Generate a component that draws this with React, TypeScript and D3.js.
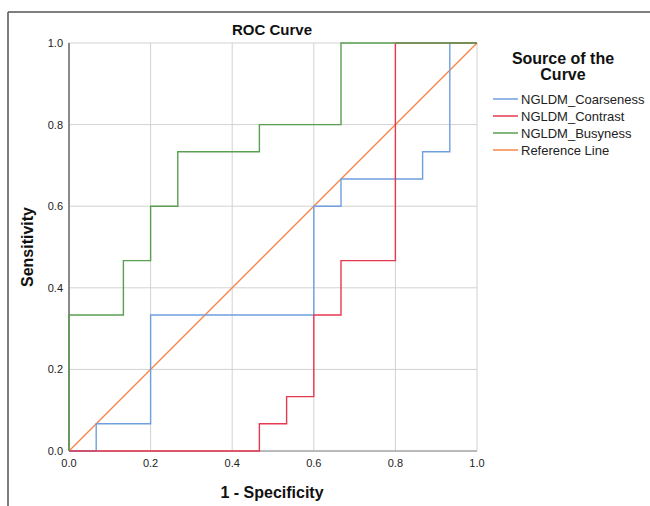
import React from "react";
import * as d3 from "d3";

const xTicks = [0, 0.2, 0.4, 0.6, 0.8, 1.0];
const yTicks = [0, 0.2, 0.4, 0.6, 0.8, 1.0];

const seriesNames = ["NGLDM_Coarseness", "NGLDM_Contrast", "NGLDM_Busyness", "Reference Line"];
const seriesColors = ["#6f9fdf", "#e5394f", "#5a9e52", "#f7874a"];

// ROC points (1 - specificity, sensitivity), steps of 1/15
const coarsenessFpr = [0, 1/15, 1/15, 3/15, 3/15, 9/15, 9/15, 10/15, 10/15, 13/15, 13/15, 14/15, 14/15, 1];
const coarsenessTpr = [0, 0, 1/15, 1/15, 5/15, 5/15, 9/15, 9/15, 10/15, 10/15, 11/15, 11/15, 1, 1];

const contrastFpr = [0, 7/15, 7/15, 8/15, 8/15, 9/15, 9/15, 10/15, 10/15, 12/15, 12/15, 1];
const contrastTpr = [0, 0, 1/15, 1/15, 2/15, 2/15, 5/15, 5/15, 7/15, 7/15, 1, 1];

const busynessFpr = [0, 0, 2/15, 2/15, 3/15, 3/15, 4/15, 4/15, 7/15, 7/15, 10/15, 10/15, 1];
const busynessTpr = [0, 5/15, 5/15, 7/15, 7/15, 9/15, 9/15, 11/15, 11/15, 12/15, 12/15, 1, 1];

const referenceFpr = [0, 1];
const referenceTpr = [0, 1];

export default function App() {
  const W = 650, H = 506;
  const left = 69, right = 477, top = 43, bottom = 451;
  const x = d3.scaleLinear().domain([0, 1]).range([left, right]);
  const y = d3.scaleLinear().domain([0, 1]).range([bottom, top]);
  const line = d3.line<[number, number]>().x(d => x(d[0])).y(d => y(d[1]));
  const zip = (a: number[], b: number[]) => a.map((v, i) => [v, b[i]] as [number, number]);
  const series = [
    zip(coarsenessFpr, coarsenessTpr),
    zip(contrastFpr, contrastTpr),
    zip(busynessFpr, busynessTpr),
    zip(referenceFpr, referenceTpr),
  ];
  const drawOrder = [3, 0, 1, 2];
  const font = "Arial, 'Liberation Sans', sans-serif";
  return (
    <svg width={W} height={H} style={{ position: "absolute", left: 0, top: 0 }} fontFamily={font}>
      <rect x={0} y={0} width={W} height={H} fill="#fff" />
      {/* outer frame */}
      <line x1={8} y1={12} x2={W} y2={12} stroke="#555" strokeWidth={1.5} />
      <line x1={8} y1={12} x2={8} y2={H} stroke="#555" strokeWidth={1.5} />
      {/* gridlines */}
      {xTicks.map((t, i) => (
        <line key={"gx" + i} x1={x(t)} x2={x(t)} y1={top} y2={bottom} stroke="#d2d2d2" strokeWidth={1} />
      ))}
      {yTicks.map((t, i) => (
        <line key={"gy" + i} x1={left} x2={right} y1={y(t)} y2={y(t)} stroke="#d2d2d2" strokeWidth={1} />
      ))}
      {/* axes */}
      <line x1={left} x2={left} y1={top} y2={bottom} stroke="#8a8a8a" strokeWidth={2} />
      <line x1={left} x2={right} y1={bottom} y2={bottom} stroke="#aaa" strokeWidth={1.5} />
      {/* tick labels */}
      {yTicks.map((t, i) => (
        <text key={"ty" + i} x={left - 6} y={y(t) + 4} textAnchor="end" fontSize={11} fill="#222">
          {d3.format(".1f")(t)}
        </text>
      ))}
      {xTicks.map((t, i) => (
        <text key={"tx" + i} x={x(t)} y={bottom + 16} textAnchor="middle" fontSize={11} fill="#222">
          {d3.format(".1f")(t)}
        </text>
      ))}
      {/* series */}
      {drawOrder.map(i => (
        <path key={"s" + i} d={line(series[i]) || ""} fill="none" stroke={seriesColors[i]} strokeWidth={1.4} />
      ))}
      {/* titles */}
      <text x={272} y={35} textAnchor="middle" fontSize={15} fontWeight="bold" fill="#111">ROC Curve</text>
      <text x={272} y={498} textAnchor="middle" fontSize={16} fontWeight="bold" fill="#111">1 - Specificity</text>
      <text transform={`translate(33,${(top + bottom) / 2}) rotate(-90)`} textAnchor="middle" fontSize={16} fontWeight="bold" fill="#111">Sensitivity</text>
      {/* legend */}
      <text x={563} y={64} textAnchor="middle" fontSize={16} fontWeight="bold" fill="#111">Source of the</text>
      <text x={563} y={80} textAnchor="middle" fontSize={16} fontWeight="bold" fill="#111">Curve</text>
      {seriesNames.map((n, i) => (
        <g key={"l" + i}>
          <line x1={493} x2={518} y1={99 + i * 17} y2={99 + i * 17} stroke={seriesColors[i]} strokeWidth={1.5} />
          <text x={521} y={99 + i * 17 + 4.5} fontSize={13} fill="#222">{n}</text>
        </g>
      ))}
    </svg>
  );
}
